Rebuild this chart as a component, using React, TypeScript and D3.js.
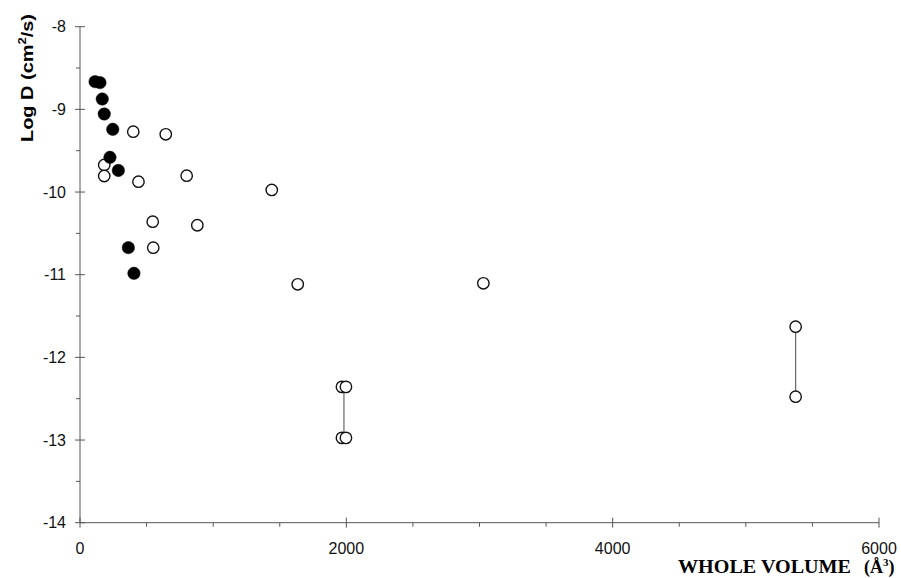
import React from "react";
import * as d3 from "d3";

const filledX = [113, 150, 167, 182, 246, 225, 288, 363, 405];
const filledY = [-8.665, -8.677, -8.875, -9.056, -9.241, -9.58, -9.739, -10.673, -10.983];

const openX = [400, 644, 182, 182, 439, 801, 1440, 546, 881, 550, 1635, 3029, 1967, 1997, 1967, 1997, 5374, 5374];
const openY = [-9.27, -9.302, -9.673, -9.806, -9.875, -9.802, -9.975, -10.359, -10.402, -10.673, -11.116, -11.104, -12.357, -12.357, -12.974, -12.974, -11.629, -12.476];

const rangeX = [1982, 5374];
const rangeLo = [-12.974, -12.476];
const rangeHi = [-12.357, -11.629];

const yMajor = [-8, -9, -10, -11, -12, -13, -14];
const yMinor = [-8.5, -9.5, -10.5, -11.5, -12.5, -13.5];
const xMajor = [0, 2000, 4000, 6000];
const xMinor = [500, 1000, 1500, 2500, 3000, 3500, 4500, 5000, 5500];

export default function App() {
  const x = d3.scaleLinear().domain([0, 6000]).range([80, 879]);
  const y = d3.scaleLinear().domain([-14, -8]).range([522.7, 26.7]);
  const axisColor = "#555";
  const x0 = x(0);
  const y0 = y(-14);
  return (
    <svg width={901} height={578} style={{ position: "absolute", left: 0, top: 0, background: "#fff" }}>
      <rect width={901} height={578} fill="#fff" />
      {/* y axis */}
      <line x1={x0} x2={x0} y1={y(-8)} y2={y0} stroke={axisColor} strokeWidth={1} />
      {yMajor.map((v) => (
        <g key={"ym" + v}>
          <line x1={x0 - 5} x2={x0 + 5} y1={y(v)} y2={y(v)} stroke={axisColor} strokeWidth={1} />
          <text x={66} y={y(v) + 5.5} textAnchor="end" fontFamily="Liberation Sans, Arial, sans-serif" fontSize={16} fill="#111">
            {v}
          </text>
        </g>
      ))}
      {yMinor.map((v) => (
        <line key={"yn" + v} x1={x0 - 4} x2={x0} y1={y(v)} y2={y(v)} stroke={axisColor} strokeWidth={1} />
      ))}
      {/* x axis */}
      <line x1={x0} x2={x(6000)} y1={y0} y2={y0} stroke={axisColor} strokeWidth={1} />
      {xMajor.map((v) => (
        <g key={"xm" + v}>
          <line x1={x(v)} x2={x(v)} y1={y0 - 5} y2={y0 + 5} stroke={axisColor} strokeWidth={1} />
          <text x={x(v)} y={554} textAnchor="middle" fontFamily="Liberation Sans, Arial, sans-serif" fontSize={16} fill="#111">
            {v}
          </text>
        </g>
      ))}
      {xMinor.map((v) => (
        <line key={"xn" + v} x1={x(v)} x2={x(v)} y1={y0} y2={y0 + 4} stroke={axisColor} strokeWidth={1} />
      ))}
      {/* range lines */}
      {rangeX.map((v, i) => (
        <line key={"r" + i} x1={x(v)} x2={x(v)} y1={y(rangeHi[i])} y2={y(rangeLo[i])} stroke="#666" strokeWidth={1.2} />
      ))}
      {/* open points */}
      {openX.map((v, i) => (
        <circle key={"o" + i} cx={x(v)} cy={y(openY[i])} r={5.7} fill="#fff" stroke="#111" strokeWidth={1.4} />
      ))}
      {/* filled points */}
      {filledX.map((v, i) => (
        <circle key={"f" + i} cx={x(v)} cy={y(filledY[i])} r={6.2} fill="#000" stroke="#000" strokeWidth={0.5} />
      ))}
      {/* y label */}
      <text
        transform="translate(33,78) rotate(-90)"
        textAnchor="middle"
        fontFamily="Liberation Sans, Arial, sans-serif"
        fontWeight="bold"
        fontSize={17}
        fill="#000"
        textLength={128}
        lengthAdjust="spacingAndGlyphs"
      >
        Log D (cm<tspan dy={-7} fontSize={11}>2</tspan><tspan dy={7}>/s)</tspan>
      </text>
      {/* x label */}
      <text x={678} y={573} fontFamily="Liberation Serif, Times New Roman, serif" fontWeight="bold" fontSize={18} fill="#000" textLength={173} lengthAdjust="spacingAndGlyphs">
        WHOLE VOLUME
      </text>
      <text x={864} y={573} fontFamily="Liberation Serif, Times New Roman, serif" fontWeight="bold" fontSize={18} fill="#000">
        (Å<tspan dy={-7} fontSize={11}>3</tspan><tspan dy={7}>)</tspan>
      </text>
    </svg>
  );
}
